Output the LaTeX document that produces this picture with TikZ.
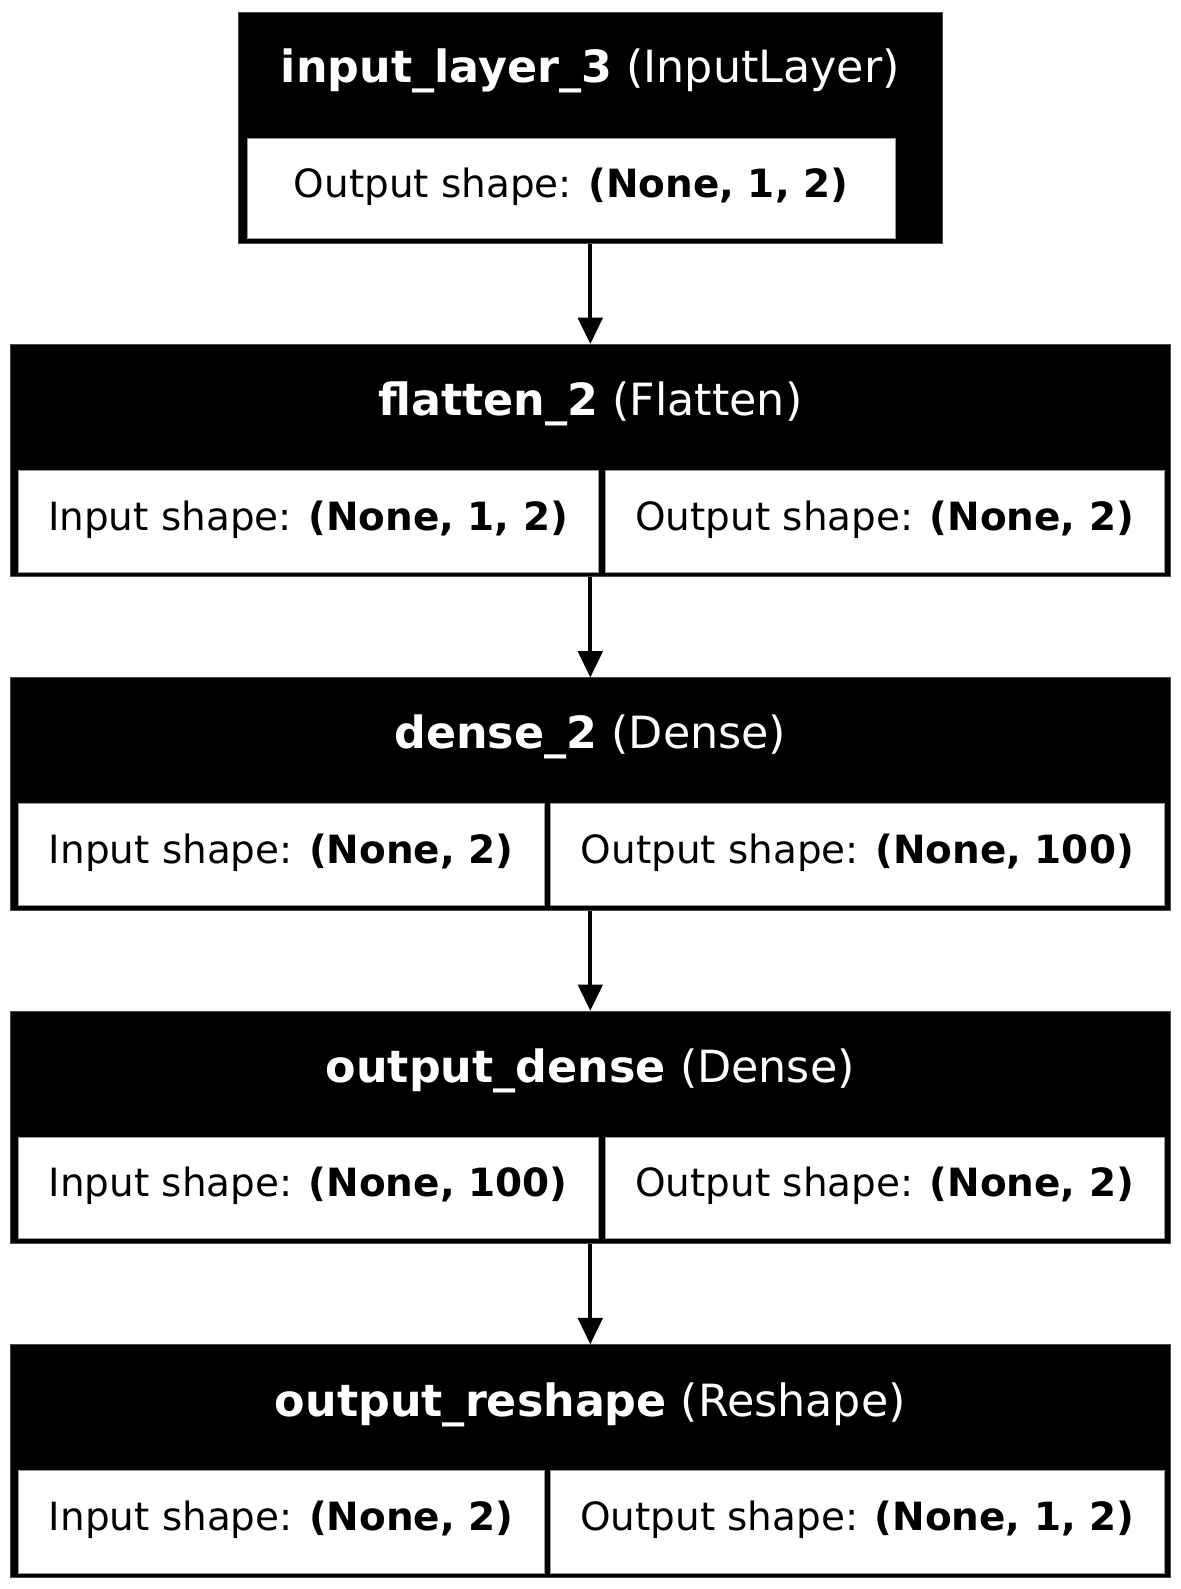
\documentclass[tikz,border=0pt]{standalone}
\usepackage{fontspec}
\setmainfont{DejaVu Sans}
\usetikzlibrary{arrows.meta}

\tikzset{
  layer/.style={fill=black, draw=black!70, line width=0.5pt, inner sep=0pt},
  cell/.style={fill=white, draw=black!40, line width=0.3pt, inner sep=0pt,
    text height=14pt, text depth=5pt, font=\fontsize{19.2}{23}\selectfont},
  title/.style={text=white, inner sep=0pt, yshift=-1.5pt, font=\fontsize{21.9}{26}\selectfont},
  flow/.style={line width=2pt, -{Triangle[length=13pt,width=12pt]}}
}

\begin{document}
\begin{tikzpicture}[x=0.5pt,y=-0.5pt]
    \fill[white] (0,0) rectangle (1165,1568);
    \useasboundingbox (0,0) rectangle (1165,1568);
    % input_layer_3
    \node[layer, minimum width=347.5pt, minimum height=114pt] (input) at (582.5,126) {};
    \node[title] (inputtitle) at (582.5,67) {\textbf{input\_layer\_3} (InputLayer)};
    \node[cell, minimum width=319.5pt, minimum height=49.5pt] (inputout) at (563.5,185.5) {Output shape: \textbf{(None, 1, 2)}};
    % flatten_2
    \node[layer, minimum width=572.5pt, minimum height=114.5pt] (flatten) at (582.5,454.5) {};
    \node[title] (flattentitle) at (582.5,396) {\textbf{flatten\_2} (Flatten)};
    \node[cell, minimum width=286pt, minimum height=50.5pt] (flattenin) at (304,514.5) {Input shape: \textbf{(None, 1, 2)}};
    \node[cell, minimum width=276pt, minimum height=50.5pt] (flattenout) at (873,514.5) {Output shape: \textbf{(None, 2)}};
    % dense_2
    \node[layer, minimum width=572.5pt, minimum height=114.5pt] (dense) at (582.5,783.5) {};
    \node[title] (densetitle) at (582.5,724) {\textbf{dense\_2} (Dense)};
    \node[cell, minimum width=259.5pt, minimum height=50pt] (densein) at (277.5,843) {Input shape: \textbf{(None, 2)}};
    \node[cell, minimum width=303pt, minimum height=50pt] (denseout) at (846,843) {Output shape: \textbf{(None, 100)}};
    % output_dense
    \node[layer, minimum width=572.5pt, minimum height=114.5pt] (outdense) at (582.5,1112.5) {};
    \node[title] (outdensetitle) at (582.5,1054) {\textbf{output\_dense} (Dense)};
    \node[cell, minimum width=286pt, minimum height=50pt] (outdensein) at (304,1172) {Input shape: \textbf{(None, 100)}};
    \node[cell, minimum width=276pt, minimum height=50pt] (outdenseout) at (873,1172) {Output shape: \textbf{(None, 2)}};
    % output_reshape
    \node[layer, minimum width=572.5pt, minimum height=115pt] (reshape) at (582.5,1442) {};
    \node[title] (reshapetitle) at (582.5,1383) {\textbf{output\_reshape} (Reshape)};
    \node[cell, minimum width=259.5pt, minimum height=50.5pt] (reshapein) at (277.5,1501.5) {Input shape: \textbf{(None, 2)}};
    \node[cell, minimum width=303pt, minimum height=50.5pt] (reshapeout) at (846,1501.5) {Output shape: \textbf{(None, 1, 2)}};
    % connections
    \draw[flow] (input.south) -- (flatten.north);
    \draw[flow] (flatten.south) -- (dense.north);
    \draw[flow] (dense.south) -- (outdense.north);
    \draw[flow] (outdense.south) -- (reshape.north);
\end{tikzpicture}
\end{document}
